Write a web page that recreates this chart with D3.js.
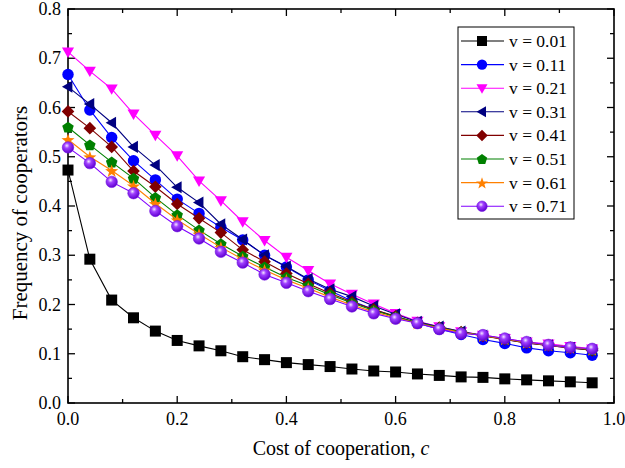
<!DOCTYPE html>
<html>
<head>
<meta charset="utf-8">
<script src="https://cdn.jsdelivr.net/npm/d3@7"></script>
<style>
  body { margin: 0; background: #fff; }
  svg { display: block; font-family: "Liberation Serif", "Times New Roman", serif; }
</style>
</head>
<body>
<div id="chart"></div>
<script>
// cost of cooperation
const costs = [0, 0.04, 0.08, 0.12, 0.16, 0.20, 0.24, 0.28, 0.32, 0.36, 0.40, 0.44, 0.48,
  0.52, 0.56, 0.60, 0.64, 0.68, 0.72, 0.76, 0.80, 0.84, 0.88, 0.92, 0.96];

const v001 = [0.473, 0.292, 0.209, 0.173, 0.146, 0.127, 0.116, 0.106, 0.094, 0.088, 0.082, 0.078, 0.074,
  0.069, 0.065, 0.063, 0.059, 0.056, 0.053, 0.052, 0.049, 0.047, 0.045, 0.043, 0.041];
const v011 = [0.667, 0.595, 0.539, 0.492, 0.453, 0.414, 0.385, 0.357, 0.331, 0.300, 0.276, 0.250, 0.228,
  0.207, 0.190, 0.175, 0.162, 0.150, 0.139, 0.129, 0.121, 0.112, 0.106, 0.102, 0.097];
const v021 = [0.713, 0.674, 0.638, 0.587, 0.544, 0.502, 0.451, 0.411, 0.368, 0.330, 0.296, 0.269, 0.242,
  0.221, 0.201, 0.182, 0.166, 0.155, 0.145, 0.138, 0.131, 0.124, 0.120, 0.115, 0.110];
const v031 = [0.642, 0.607, 0.569, 0.520, 0.483, 0.438, 0.407, 0.363, 0.332, 0.300, 0.277, 0.252, 0.231,
  0.216, 0.197, 0.180, 0.165, 0.155, 0.145, 0.137, 0.129, 0.122, 0.117, 0.112, 0.107];
const v041 = [0.592, 0.558, 0.520, 0.471, 0.439, 0.404, 0.375, 0.346, 0.311, 0.287, 0.263, 0.242, 0.223,
  0.205, 0.190, 0.176, 0.163, 0.153, 0.144, 0.136, 0.129, 0.122, 0.117, 0.112, 0.107];
const v051 = [0.560, 0.524, 0.489, 0.456, 0.417, 0.382, 0.351, 0.323, 0.298, 0.276, 0.255, 0.238, 0.220,
  0.203, 0.188, 0.175, 0.163, 0.153, 0.144, 0.137, 0.130, 0.123, 0.118, 0.113, 0.108];
const v061 = [0.535, 0.500, 0.472, 0.441, 0.405, 0.372, 0.343, 0.316, 0.292, 0.270, 0.250, 0.233, 0.215,
  0.199, 0.185, 0.173, 0.162, 0.152, 0.143, 0.137, 0.130, 0.123, 0.118, 0.113, 0.109];
const v071 = [0.519, 0.487, 0.449, 0.426, 0.390, 0.359, 0.334, 0.307, 0.285, 0.261, 0.244, 0.227, 0.211,
  0.196, 0.182, 0.171, 0.162, 0.150, 0.141, 0.138, 0.131, 0.124, 0.118, 0.113, 0.110];

const seriesNames = ["v = 0.01", "v = 0.11", "v = 0.21", "v = 0.31", "v = 0.41", "v = 0.51", "v = 0.61", "v = 0.71"];
const seriesValues = [v001, v011, v021, v031, v041, v051, v061, v071];
const seriesColors = ["#000000", "#0000ff", "#ff00ff", "#000080", "#800000", "#008000", "#ff8000", "#8000ff"];
const seriesShapes = ["square", "circle", "triDown", "triLeft", "diamond", "pentagon", "star", "sphere"];

const xTicks = [0, 0.2, 0.4, 0.6, 0.8, 1.0];
const yTicks = [0, 0.1, 0.2, 0.3, 0.4, 0.5, 0.6, 0.7, 0.8];

const W = 625, H = 468;
const margin = { left: 68, right: 11, top: 9, bottom: 65 };

const svg = d3.select('#chart').append('svg')
  .attr('width', W)
  .attr('height', H);

const defs = svg.append('defs');
const grad = defs.append('radialGradient')
  .attr('id', 'sphere')
  .attr('cx', '40%').attr('cy', '35%').attr('r', '65%');
grad.append('stop').attr('offset', '0%').attr('stop-color', '#f4e8ff');
grad.append('stop').attr('offset', '35%').attr('stop-color', '#a040ff');
grad.append('stop').attr('offset', '100%').attr('stop-color', '#6000d0');

const x = d3.scaleLinear().domain([0, 1]).range([margin.left, W - margin.right]);
const y = d3.scaleLinear().domain([0, 0.8]).range([H - margin.bottom, margin.top]);

// Marker path generator
function markerPath(shape, s) {
  const r = s / 2;
  switch (shape) {
    case 'square': return `M${-r},${-r}H${r}V${r}H${-r}Z`;
    case 'triDown': return `M${-r * 1.1},${-r * 0.8}L${r * 1.1},${-r * 0.8}L0,${r * 1.1}Z`;
    case 'triLeft': return `M${r * 0.8},${-r * 1.1}L${r * 0.8},${r * 1.1}L${-r * 1.1},0Z`;
    case 'diamond': return `M0,${-r * 1.15}L${r * 1.15},0L0,${r * 1.15}L${-r * 1.15},0Z`;
    case 'pentagon': {
      const pts = d3.range(5).map(i => {
        const a = -Math.PI / 2 + i * 2 * Math.PI / 5;
        return [Math.cos(a) * r * 1.1, Math.sin(a) * r * 1.1 + 0.5];
      });
      return 'M' + pts.join('L') + 'Z';
    }
    case 'star': {
      const pts = d3.range(10).map(i => {
        const a = -Math.PI / 2 + i * Math.PI / 5;
        const rr = i % 2 === 0 ? r * 1.25 : r * 0.5;
        return [Math.cos(a) * rr, Math.sin(a) * rr + 0.8];
      });
      return 'M' + pts.join('L') + 'Z';
    }
    default: return d3.symbol().type(d3.symbolCircle).size(s * s * 0.85)();
  }
}

function drawMarker(g, shape, color, s) {
  g.append('path')
    .attr('d', markerPath(shape, s))
    .style('fill', shape === 'sphere' ? 'url(#sphere)' : color)
    .style('stroke', shape === 'sphere' ? '#7010e0' : 'none')
    .style('stroke-width', 0.6);
}

// Frame
const plot = svg.append('g');
plot.append('rect')
  .attr('x', margin.left).attr('y', margin.top)
  .attr('width', W - margin.left - margin.right)
  .attr('height', H - margin.top - margin.bottom)
  .style('fill', 'none')
  .style('stroke', '#000')
  .style('stroke-width', 1.6);

// Ticks (inward) on all four sides
const xMinor = d3.range(0, 1.0001, 0.1);
const yMinor = d3.range(0, 0.8001, 0.05);
const isMajor = (v, step) => Math.abs(v / step - Math.round(v / step)) < 1e-6;

xMinor.forEach(v => {
  const len = isMajor(v, 0.2) ? 7 : 4;
  plot.append('line').attr('x1', x(v)).attr('x2', x(v))
    .attr('y1', y(0)).attr('y2', y(0) - len).style('stroke', '#000').style('stroke-width', 1.3);
  plot.append('line').attr('x1', x(v)).attr('x2', x(v))
    .attr('y1', y(0.8)).attr('y2', y(0.8) + len).style('stroke', '#000').style('stroke-width', 1.3);
});
yMinor.forEach(v => {
  const len = isMajor(v, 0.1) ? 7 : 4;
  plot.append('line').attr('y1', y(v)).attr('y2', y(v))
    .attr('x1', x(0)).attr('x2', x(0) + len).style('stroke', '#000').style('stroke-width', 1.3);
  plot.append('line').attr('y1', y(v)).attr('y2', y(v))
    .attr('x1', x(1)).attr('x2', x(1) - len).style('stroke', '#000').style('stroke-width', 1.3);
});

// Tick labels
svg.selectAll('text.xt')
  .data(xTicks)
  .enter().append('text')
  .attr('class', 'xt')
  .attr('x', d => x(d))
  .attr('y', y(0) + 22)
  .attr('text-anchor', 'middle')
  .style('font-size', '18px')
  .text(d => d.toFixed(1));

svg.selectAll('text.yt')
  .data(yTicks)
  .enter().append('text')
  .attr('class', 'yt')
  .attr('x', x(0) - 7)
  .attr('y', d => y(d) + 6)
  .attr('text-anchor', 'end')
  .style('font-size', '18px')
  .text(d => d.toFixed(1));

// Axis titles
const xt = svg.append('text')
  .attr('x', (x(0) + x(1)) / 2)
  .attr('y', 455)
  .attr('text-anchor', 'middle')
  .style('font-size', '20px');
xt.append('tspan').text('Cost of cooperation, ');
xt.append('tspan').style('font-style', 'italic').text('c');

svg.append('text')
  .attr('transform', `translate(27, 213) rotate(-90)`)
  .attr('text-anchor', 'middle')
  .style('font-size', '21px')
  .text('Frequency of cooperators');

// Series
const line = d3.line()
  .x(d => x(d[0]))
  .y(d => y(d[1]));

seriesValues.forEach((vals, i) => {
  const pts = costs.map((c, j) => [c, vals[j]]);
  const g = svg.append('g');
  g.append('path')
    .datum(pts)
    .attr('d', line)
    .style('fill', 'none')
    .style('stroke', seriesColors[i])
    .style('stroke-width', 1.1);
  pts.forEach(p => {
    const m = g.append('g').attr('transform', `translate(${x(p[0])}, ${y(p[1])})`);
    drawMarker(m, seriesShapes[i], seriesColors[i], 11);
  });
});

// Legend
const lg = svg.append('g');
lg.append('rect')
  .attr('x', 458).attr('y', 27)
  .attr('width', 116).attr('height', 192)
  .style('fill', '#fff')
  .style('stroke', '#000')
  .style('stroke-width', 1);

seriesNames.forEach((name, i) => {
  const yy = 41 + i * 23.6;
  lg.append('line')
    .attr('x1', 461).attr('x2', 504)
    .attr('y1', yy).attr('y2', yy)
    .style('stroke', seriesColors[i])
    .style('stroke-width', 1.1);
  const m = lg.append('g').attr('transform', `translate(482, ${yy})`);
  drawMarker(m, seriesShapes[i], seriesColors[i], 10);
  lg.append('text')
    .attr('x', 509)
    .attr('y', yy + 6)
    .style('font-size', '17.5px')
    .text(name);
});
</script>
</body>
</html>
